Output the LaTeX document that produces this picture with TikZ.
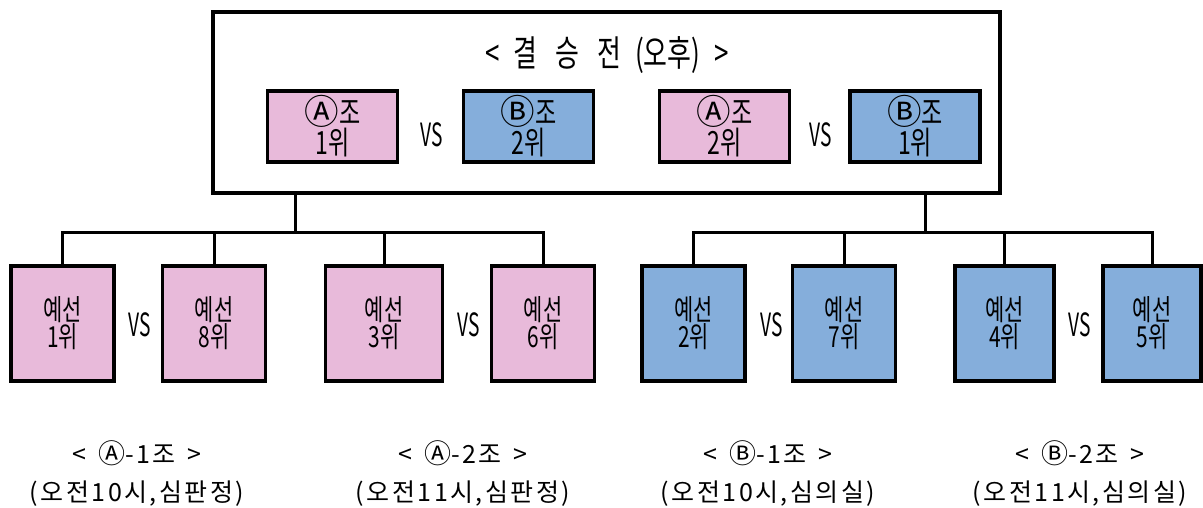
\documentclass[tikz,border=0pt]{standalone}
\usepackage{fontspec}
\setmainfont{Noto Sans CJK KR}[FakeStretch=0.72]
\newfontfamily\widefont{Noto Sans CJK KR}[LetterSpace=10]
\newfontfamily\narrowfont{Noto Sans CJK KR}[FakeStretch=0.6]
\newfontfamily\circfont{Noto Sans CJK KR}[Scale=1.08]
\newcommand{\ca}{{\circfont Ⓐ}}
\newcommand{\cb}{{\circfont Ⓑ}}
\usepackage{tikz}
\definecolor{apink}{HTML}{E8BADA}
\definecolor{bblue}{HTML}{85AEDB}
\tikzset{every picture/.style={x=1pt, y=-1pt, line width=3.5pt}}
\tikzset{finbox/.style={draw, rectangle, inner sep=0pt, minimum width=130pt, minimum height=71pt, align=center, font=\fontsize{32}{30}\selectfont}}
\tikzset{prebox/.style={draw, rectangle, inner sep=0pt, minimum width=103pt, minimum height=115pt, align=center, font=\fontsize{29}{27}\selectfont}}
\tikzset{vstext/.style={inner sep=0pt, font=\narrowfont\fontsize{32}{32}\selectfont}}
\tikzset{grplabel/.style={inner sep=0pt, align=center, font=\widefont\fontsize{25}{38}\selectfont}}
\tikzset{link/.style={line width=3pt}}

\begin{document}
\begin{tikzpicture}
\useasboundingbox (0,0) rectangle (1203,508);
\node[draw, rectangle, inner sep=0pt, minimum width=787pt, minimum height=181pt] (top) at (606.5,102.5) {};
\node[inner sep=0pt, font=\fontsize{36}{36}\selectfont] (title) at (607,55) {<\hspace{14pt}결\hspace{18pt}승\hspace{18pt}전\hspace{14pt}(오후)\hspace{14pt}>};
\node[finbox, fill=apink] (a1) at (332.5,126.5) {\ca 조\\1위};
\node[finbox, fill=bblue] (b2) at (528.5,126.5) {\cb 조\\2위};
\node[finbox, fill=apink] (a2) at (724.5,126.5) {\ca 조\\2위};
\node[finbox, fill=bblue] (b1) at (915,126.5) {\cb 조\\1위};
\node[vstext] (v1) at (432,135) {VS};
\node[vstext] (v2) at (821,135) {VS};
\node[prebox, fill=apink] (p1) at (62.5,323.5) {예선\\1위};
\node[prebox, fill=apink] (p8) at (214,323.5) {예선\\8위};
\node[prebox, fill=apink, minimum width=117pt] (p3) at (384,323.5) {예선\\3위};
\node[prebox, fill=apink] (p6) at (543,323.5) {예선\\6위};
\node[prebox, fill=bblue] (p2) at (693.5,323.5) {예선\\2위};
\node[prebox, fill=bblue] (p7) at (844,323.5) {예선\\7위};
\node[prebox, fill=bblue, minimum width=99pt] (p4) at (1004.5,323.5) {예선\\4위};
\node[prebox, fill=bblue, minimum width=98pt] (p5) at (1152,323.5) {예선\\5위};
\node[vstext] (v3) at (140,325) {VS};
\node[vstext] (v4) at (469,325) {VS};
\node[vstext] (v5) at (772,325) {VS};
\node[vstext] (v6) at (1080,325) {VS};
\node[grplabel] (g1) at (137,474) {<\hspace{12pt}\ca-1조\hspace{12pt}>\\(오전10시,심판정)};
\node[grplabel] (g2) at (463,474) {<\hspace{12pt}\ca-2조\hspace{12pt}>\\(오전11시,심판정)};
\node[grplabel] (g3) at (768,474) {<\hspace{12pt}\cb-1조\hspace{12pt}>\\(오전10시,심의실)};
\node[grplabel] (g4) at (1080,474) {<\hspace{12pt}\cb-2조\hspace{12pt}>\\(오전11시,심의실)};
\coordinate (jl) at (295,232);
\coordinate (jr) at (925,232);
\draw[link] (top.south -| jl) -- (jl);
\draw[link] (top.south -| jr) -- (jr);
\draw[link] (p1.north) -- (p1.north |- jl) -- (p6.north |- jl) -- (p6.north);
\draw[link] (p8.north) -- (p8.north |- jl);
\draw[link] (p3.north) -- (p3.north |- jl);
\draw[link] (p2.north) -- (p2.north |- jr) -- (p5.north |- jr) -- (p5.north);
\draw[link] (p7.north) -- (p7.north |- jr);
\draw[link] (p4.north) -- (p4.north |- jr);
\end{tikzpicture}
\end{document}
